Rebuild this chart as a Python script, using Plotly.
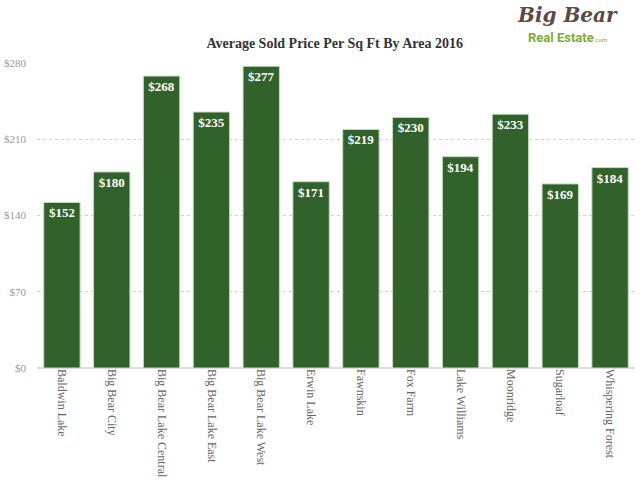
import plotly.graph_objects as go

areas = ["Baldwin Lake", "Big Bear City", "Big Bear Lake Central", "Big Bear Lake East",
         "Big Bear Lake West", "Erwin Lake", "Fawnskin", "Fox Farm", "Lake Williams",
         "Moonridge", "Sugarloaf", "Whispering Forest"]
prices = [152, 180, 268, 235, 277, 171, 219, 230, 194, 233, 169, 184]
y_ticks = [0, 70, 140, 210, 280]
y_tick_labels = ["$0", "$70", "$140", "$210", "$280"]

serif = "Liberation Serif, Times New Roman, serif"

fig = go.Figure()
fig.add_trace(go.Bar(
    x=areas, y=prices,
    marker=dict(color="#31622b", line=dict(color="#c9d9c4", width=1)),
    text=["$%d" % p for p in prices],
    textposition="inside", insidetextanchor="end",
    textfont=dict(family=serif, size=13, color="white", weight="bold"),
    textangle=0,
    width=0.73,
    hoverinfo="skip",
))

fig.update_layout(
    width=640, height=480,
    paper_bgcolor="white", plot_bgcolor="white",
    margin=dict(l=37, r=5, t=63, b=112, autoexpand=False),
    showlegend=False,
    title=dict(text="<b>Average Sold Price Per Sq Ft By Area 2016</b>",
               x=0.523, xanchor="center", y=0.910, yanchor="middle",
               font=dict(family=serif, size=14, color="#333333")),
    uniformtext=dict(mode="show", minsize=8),
)
fig.update_xaxes(
    tickangle=90, tickfont=dict(family=serif, size=12, color="#666666"),
    showgrid=False, showline=False, ticks="", ticklen=0, automargin=False,
)
fig.update_yaxes(
    range=[0, 280], tickvals=y_ticks, ticktext=y_tick_labels,
    tickfont=dict(family=serif, size=11, color="#999999"),
    showgrid=True, gridcolor="#cfcfcf", griddash="dot", gridwidth=1,
    zeroline=True, zerolinecolor="#dddddd", zerolinewidth=2,
    ticks="", showline=False, ticklabelstandoff=10, automargin=False,
)

fig.add_annotation(text="<i><b>Big Bear</b></i>", xref="paper", yref="paper",
                   x=0.975, y=1.157, xanchor="right", yanchor="middle",
                   showarrow=False,
                   font=dict(family="DejaVu Serif, serif", size=20, color="#5b4a42"))
fig.add_annotation(text="<b>Real Estate</b><span style='font-size:6px'>.com</span>",
                   xref="paper", yref="paper",
                   x=0.957, y=1.082, xanchor="right", yanchor="middle",
                   showarrow=False,
                   font=dict(family="Liberation Sans Narrow, Roboto, sans-serif", size=13, color="#7aac38"))

fig.write_html("out.html", config={"displayModeBar": False},
               post_script="document.body.style.margin='0';")
